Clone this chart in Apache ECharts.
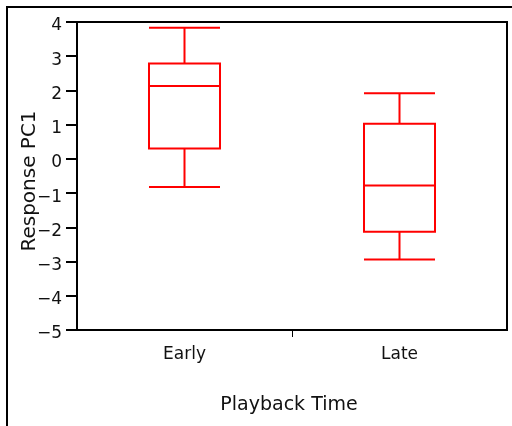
<!DOCTYPE html>
<html>
<head>
<meta charset="utf-8">
<script src="https://cdn.jsdelivr.net/npm/echarts@6/dist/echarts.min.js"></script>
<style>
  html, body { margin: 0; padding: 0; background: #fff; }
  #chart { width: 512px; height: 426px; }
</style>
</head>
<body>
<div id="chart"></div>
<script>
// Playback groups on the x axis
const categories = ['Early', 'Late'];
// Five-number summaries per group: [min, Q1, median, Q3, max]
const earlyStats = [-0.82, 0.30, 2.13, 2.79, 3.83];
const lateStats = [-2.94, -2.13, -0.78, 1.03, 1.92];
// Response axis range and step
const yMin = -5;
const yMax = 4;
const yStep = 1;

const FONT = 'DejaVu Sans';
const TEXT = '#111';

const chart = echarts.init(document.getElementById('chart'), null, { renderer: 'canvas' });

chart.setOption({
  animation: false,
  backgroundColor: '#fff',
  graphic: [{
    type: 'rect',
    shape: { x: 7, y: 7, width: 540, height: 460 },
    style: { fill: 'none', stroke: '#000', lineWidth: 2 },
    silent: true,
    z: -1
  }],
  grid: {
    left: 77, top: 22, right: 5, bottom: 96,
    outerBoundsMode: 'none',
    show: true, borderColor: '#000', borderWidth: 2, backgroundColor: 'transparent'
  },
  xAxis: [{
    type: 'category',
    data: categories,
    boundaryGap: true,
    axisLine: { onZero: false, lineStyle: { color: '#000', width: 2 } },
    axisTick: { show: false },
    axisLabel: { color: TEXT, fontFamily: FONT, fontSize: 17, margin: 16 },
    name: 'Playback Time',
    nameLocation: 'middle',
    nameGap: 66,
    nameMoveOverlap: false,
    nameTextStyle: { color: TEXT, fontFamily: FONT, fontSize: 19, padding: [0, 6, 0, 0] },
    splitLine: { show: false }
  }, {
    // boundary tick between the two groups
    type: 'value',
    position: 'bottom',
    min: 0, max: 2, interval: 1,
    axisLine: { show: false, onZero: false },
    axisTick: { show: true, customValues: [1], length: 7, lineStyle: { color: '#000', width: 1 } },
    axisLabel: { show: false },
    splitLine: { show: false }
  }],
  yAxis: {
    type: 'value',
    min: yMin, max: yMax, interval: yStep,
    axisLine: { show: true, onZero: false, lineStyle: { color: '#000', width: 2 } },
    axisTick: { show: true, length: 11, lineStyle: { color: '#000', width: 2 } },
    axisLabel: {
      color: TEXT, fontFamily: FONT, fontSize: 17, margin: 15,
      verticalAlign: 'top', lineHeight: 8,
      formatter: v => String(v).replace('-', '\u2212')
    },
    splitLine: { show: false },
    name: 'Response PC1',
    nameLocation: 'middle',
    nameGap: 37,
    nameMoveOverlap: false,
    nameTextStyle: { color: TEXT, fontFamily: FONT, fontSize: 20, padding: [0, 10, 0, 0] }
  },
  series: [{
    type: 'boxplot',
    xAxisIndex: 0,
    data: [earlyStats, lateStats],
    boxWidth: [71, 71],
    itemStyle: { color: 'transparent', borderColor: '#ff0000', borderWidth: 2 },
    emphasis: { disabled: true }
  }]
});
</script>
</body>
</html>
